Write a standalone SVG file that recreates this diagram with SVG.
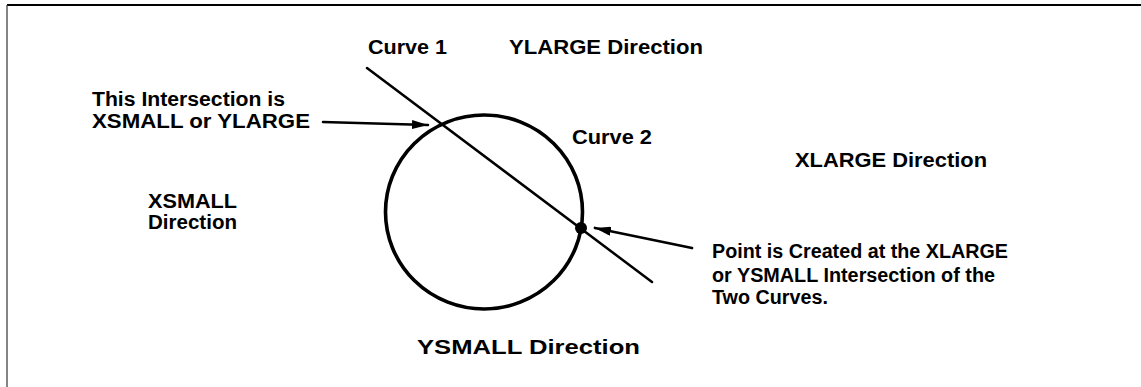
<svg xmlns="http://www.w3.org/2000/svg" width="1141" height="387" viewBox="0 0 1141 387">
<style>
text{font-family:"Liberation Sans",Arial,sans-serif;font-weight:bold;font-size:20px;fill:#000}
.ln{stroke:#000;fill:none;stroke-linecap:round}
</style>
<defs>
<marker id="ah" viewBox="0 0 16 9" refX="16" refY="4.5" markerWidth="16" markerHeight="9" markerUnits="userSpaceOnUse" orient="auto">
<path d="M0,0 L16,4.5 L0,9 Z" fill="#000"/>
</marker>
</defs>
<rect width="1141" height="387" fill="#fff"/>
<g id="frame">
<line x1="7" y1="5" x2="1141" y2="5" stroke="#000" stroke-width="2.2"/>
<line x1="7" y1="5" x2="7" y2="387" stroke="#333" stroke-width="1.2"/>
</g>
<g id="curve2">
<ellipse cx="484" cy="212" rx="98.5" ry="97" class="ln" stroke-width="3.6"/>
</g>
<g id="curve1">
<line x1="367" y1="68" x2="652" y2="282" class="ln" stroke-width="2.5"/>
</g>
<g id="point">
<circle cx="581" cy="228" r="6" fill="#000"/>
</g>
<g id="connectors">
<line x1="323" y1="122" x2="428" y2="125" class="ln" stroke-width="2.5" marker-end="url(#ah)"/>
<line x1="692" y1="248" x2="595" y2="228" class="ln" stroke-width="2.8" marker-end="url(#ah)"/>
</g>
<g id="labels">
<text x="368" y="54" textLength="79" lengthAdjust="spacingAndGlyphs">Curve 1</text>
<text x="509" y="54" textLength="194" lengthAdjust="spacingAndGlyphs">YLARGE Direction</text>
<text x="92" y="106" textLength="193" lengthAdjust="spacingAndGlyphs">This Intersection is</text>
<text x="92" y="128" textLength="218" lengthAdjust="spacingAndGlyphs">XSMALL or YLARGE</text>
<text x="572" y="144" textLength="80" lengthAdjust="spacingAndGlyphs">Curve 2</text>
<text x="795" y="167" textLength="192" lengthAdjust="spacingAndGlyphs">XLARGE Direction</text>
<text x="148" y="208" textLength="89" lengthAdjust="spacingAndGlyphs">XSMALL</text>
<text x="148" y="229" textLength="89" lengthAdjust="spacingAndGlyphs">Direction</text>
<text x="712" y="258" textLength="296" lengthAdjust="spacingAndGlyphs">Point is Created at the XLARGE</text>
<text x="712" y="282" textLength="283" lengthAdjust="spacingAndGlyphs">or YSMALL Intersection of the</text>
<text x="712" y="304" textLength="116" lengthAdjust="spacingAndGlyphs">Two Curves.</text>
<text x="417" y="354" textLength="223" lengthAdjust="spacingAndGlyphs">YSMALL Direction</text>
</g>
</svg>
